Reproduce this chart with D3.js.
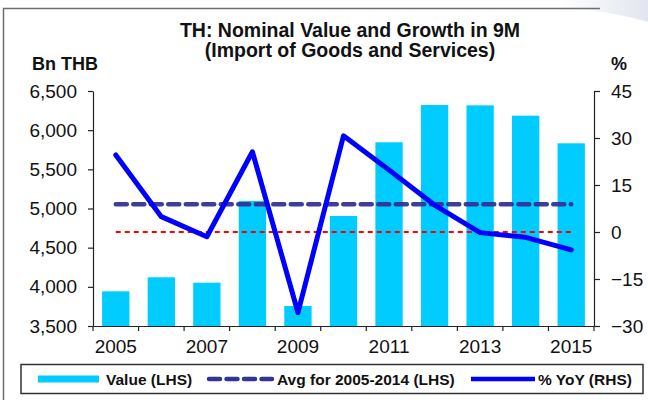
<!DOCTYPE html>
<html><head><meta charset="utf-8">
<script src="https://cdn.jsdelivr.net/npm/d3@7/dist/d3.min.js"></script>
<style>
html,body{margin:0;padding:0;background:#fff;}
svg{display:block;font-family:"Liberation Sans",Arial,sans-serif;}
</style></head>
<body>
<svg id="chart" width="648" height="400"></svg>
<script>
const years = [2005, 2006, 2007, 2008, 2009, 2010, 2011, 2012, 2013, 2014, 2015];
const values = [3943, 4122, 4053, 5096, 3755, 4904, 5845, 6321, 6317, 6185, 5832];
const yoy = [24.6, 4.9, -1.5, 25.6, -25.7, 30.7, 19.8, 8.6, -0.2, -1.7, -5.7];
const avgValue = [5054, 5054];
const zeroLine = [0, 0];
const leftTicks = [3500, 4000, 4500, 5000, 5500, 6000, 6500];
const rightTicks = [-30, -15, 0, 15, 30, 45];
const xLabelYears = [2005, 2007, 2009, 2011, 2013, 2015];
const titleLines = ["TH: Nominal Value and Growth in 9M", "(Import of Goods and Services)"];
const legendLabels = ["Value (LHS)", "Avg for 2005-2014 (LHS)", "% YoY (RHS)"];

const svg = d3.select("#chart");
const L = 93, R = 594, T = 91, B = 326;

const x = d3.scaleBand().domain(years).range([L, R]).paddingInner(0.4).paddingOuter(0.2);
const yL = d3.scaleLinear().domain([3500, 6500]).range([B, T]);
const yR = d3.scaleLinear().domain([-30, 45]).range([B, T]);
const cx = d => x(d) + x.bandwidth() / 2;

// outer frame
const defs = svg.append("defs");
const g1 = defs.append("linearGradient").attr("id", "fade").attr("x1", 0).attr("x2", 1);
g1.append("stop").attr("offset", 0).attr("stop-color", "#ffffff");
g1.append("stop").attr("offset", 1).attr("stop-color", "#e2e5ef");
svg.append("path").attr("d", "M560,0 L648,0 L648,22 C620,14 600,10 560,9 Z").attr("fill", "url(#fade)");
svg.append("path").attr("d", "M3.5,400 L3.5,8.5 L600,8.5").attr("fill", "none").attr("stroke", "#6e6e6e").attr("stroke-width", 1.5);

// bars
svg.append("g").selectAll("rect").data(years).join("rect")
  .attr("x", d => x(d)).attr("width", x.bandwidth())
  .attr("y", (d, i) => yL(values[i])).attr("height", (d, i) => B - yL(values[i]))
  .attr("fill", "#00CCFF");

// red zero dashed line
svg.append("line")
  .attr("x1", cx(years[0])).attr("x2", cx(years[years.length - 1]))
  .attr("y1", yR(zeroLine[0])).attr("y2", yR(zeroLine[1]))
  .attr("stroke", "#FF0000").attr("stroke-width", 2).attr("stroke-dasharray", "5,4");

// avg dashed line
svg.append("line")
  .attr("x1", cx(years[0])).attr("x2", cx(years[years.length - 1]))
  .attr("y1", yL(avgValue[0])).attr("y2", yL(avgValue[1]))
  .attr("stroke", "#333399").attr("stroke-width", 4.5).attr("stroke-dasharray", "11,6.5")
  .attr("stroke-linecap", "round").attr("opacity", 0.95);

// yoy line
svg.append("path").datum(years)
  .attr("d", d3.line().x(d => cx(d)).y((d, i) => yR(yoy[i])))
  .attr("fill", "none").attr("stroke", "#0000FF").attr("stroke-width", 5)
  .attr("stroke-linejoin", "round").attr("stroke-linecap", "round");

// axes
const fs = "19px";
const axL = svg.append("g").attr("transform", `translate(${L},0)`)
  .call(d3.axisLeft(yL).tickValues(leftTicks).tickSize(5).tickSizeOuter(0).tickPadding(11).tickFormat(d3.format(",")));
const axR = svg.append("g").attr("transform", `translate(${R},0)`)
  .call(d3.axisRight(yR).tickValues(rightTicks).tickSize(6).tickSizeOuter(0).tickPadding(11));
[axL, axR].forEach(a => {
  a.selectAll("text").attr("font-size", fs).attr("fill", "#111").attr("font-family", "'Liberation Sans',Arial,sans-serif");
  a.selectAll("line,path").attr("stroke", "#222").attr("stroke-width", 1.2);
});

// x axis with boundary ticks
const bounds = years.map(d => x(d) - x.step() * x.paddingInner() / 2);
bounds[0] = L; bounds.push(R);
const xs = d3.scaleLinear().domain([0, bounds.length - 1]).range([L, R]);
const axB = svg.append("g").attr("transform", `translate(0,${B})`)
  .call(d3.axisBottom(xs).tickValues(d3.range(bounds.length)).tickSize(5).tickSizeOuter(0).tickFormat(""));
axB.selectAll("line,path").attr("stroke", "#222").attr("stroke-width", 1.2);
axB.selectAll(".tick").attr("transform", (d) => `translate(${bounds[d]},0)`);
svg.append("g").selectAll("text").data(xLabelYears).join("text")
  .attr("x", d => cx(d)).attr("y", 353).attr("text-anchor", "middle")
  .attr("font-size", fs).attr("fill", "#111").text(d => d);

// titles
svg.append("g").selectAll("text").data(titleLines).join("text")
  .attr("x", 350).attr("y", (d, i) => 37 + i * 20).attr("text-anchor", "middle")
  .attr("font-size", "19.5px").attr("font-weight", "bold").attr("fill", "#111").text(d => d);
svg.append("text").attr("x", 32).attr("y", 70).attr("font-size", "18px").attr("font-weight", "bold").attr("fill", "#111").text("Bn THB");
svg.append("text").attr("x", 611).attr("y", 70).attr("font-size", "18px").attr("font-weight", "bold").attr("fill", "#111").text("%");

// legend
const lg = svg.append("g");
lg.append("rect").attr("x", 21).attr("y", 364.5).attr("width", 622).attr("height", 29)
  .attr("fill", "#fff").attr("stroke", "#333").attr("stroke-width", 1.5);
const ly = 379;
lg.append("rect").attr("x", 38).attr("y", ly - 3.5).attr("width", 61).attr("height", 7).attr("fill", "#00CCFF");
lg.append("line").attr("x1", 209).attr("x2", 272).attr("y1", ly).attr("y2", ly)
  .attr("stroke", "#333399").attr("stroke-width", 4.5).attr("stroke-dasharray", "11,6.5").attr("stroke-linecap", "round");
lg.append("line").attr("x1", 471).attr("x2", 535).attr("y1", ly).attr("y2", ly)
  .attr("stroke", "#0000FF").attr("stroke-width", 4.5);
const lx = [106, 277, 538];
lg.selectAll("text.l").data(legendLabels).join("text").attr("class", "l")
  .attr("x", (d, i) => lx[i]).attr("y", ly + 5.5)
  .attr("font-size", "15.5px").attr("font-weight", "bold").attr("fill", "#111").text(d => d);
</script>
</body></html>
